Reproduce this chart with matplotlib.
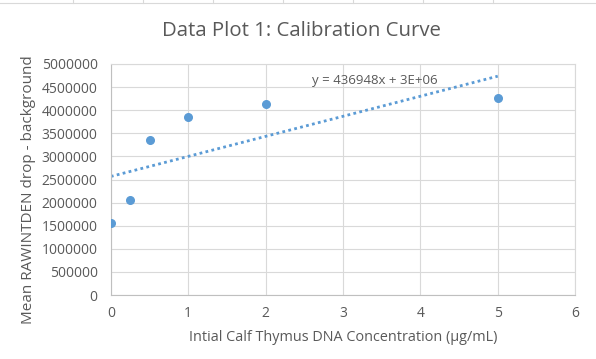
import matplotlib
matplotlib.use('Agg')
import matplotlib.pyplot as plt
import numpy as np
from matplotlib.lines import Line2D

conc = [0, 0.25, 0.5, 1, 2, 5]
signal = [1550000, 2050000, 3350000, 3850000, 4130000, 4260000]

blue = '#5b9bd5'
grey = '#595959'
plt.rcParams['font.family'] = ['Open Sans', 'DejaVu Sans']

fig = plt.figure(figsize=(5.96, 3.59), dpi=100)
ax = fig.add_axes([0.186, 0.178, 0.779, 0.644])

# spreadsheet cell borders peeking in at the top
fig.add_artist(Line2D([0, 1], [0.992, 0.992], color='#d9d9d9', lw=0.8))
for px in [73, 143, 213, 283, 353, 423, 493]:
    fig.add_artist(Line2D([px / 596, px / 596], [0.992, 1], color='#d9d9d9', lw=0.8))

ax.scatter(conc, signal, s=30, color=blue, zorder=3)

m, b = np.polyfit(conc, signal, 1)
xs = np.array([0, 5])
ax.plot(xs, m * xs + b, ls=(0, (1, 1.2)), lw=2, color=blue, zorder=2)
ax.text(2.6, 4650000, 'y = 436948x + 3E+06', fontsize=9.5, color=grey, va='center')

ax.set_xlim(0, 6)
ax.set_ylim(0, 5000000)
ax.set_xticks(range(0, 7))
ax.set_yticks(np.arange(0, 5000001, 500000))
ax.set_yticklabels([str(int(v)) for v in np.arange(0, 5000001, 500000)])
ax.grid(True, color='#d9d9d9', lw=0.8)
ax.set_axisbelow(True)
for s in ax.spines.values():
    s.set_color('#d9d9d9')
ax.spines['bottom'].set_color('#bfbfbf')
ax.spines['left'].set_color('#bfbfbf')
ax.tick_params(length=0, labelsize=10, colors=grey)
ax.tick_params(axis='y', pad=9.5)
ax.tick_params(axis='x', pad=8)

ax.set_xlabel('Intial Calf Thymus DNA Concentration (\u00b5g/mL)', fontsize=10.4, color=grey, labelpad=6)
fig.text(0.047, 0.471, 'Mean RAWINTDEN drop - background', fontsize=11, color=grey,
         rotation=90, ha='center', va='center')
fig.text(0.505, 0.914, 'Data Plot 1: Calibration Curve', fontsize=14.7, color=grey, ha='center', va='center')

fig.savefig('out.png', dpi=100)
